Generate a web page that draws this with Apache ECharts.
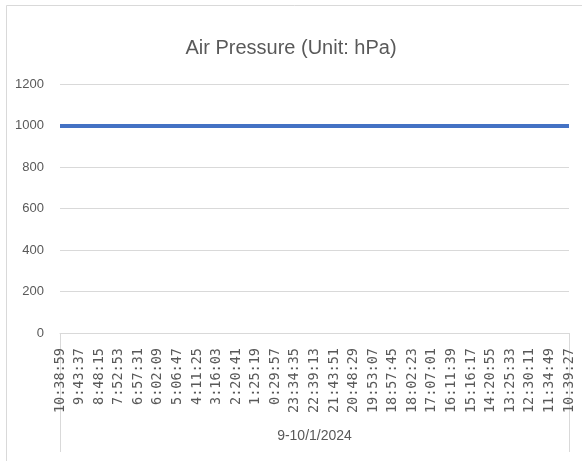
<!DOCTYPE html>
<html>
<head>
<meta charset="utf-8">
<script src="https://cdn.jsdelivr.net/npm/echarts@6/dist/echarts.min.js"></script>
<style>
  html, body { margin: 0; padding: 0; background: #fff; }
  #chart { width: 582px; height: 461px; }
</style>
</head>
<body>
<div id="chart"></div>
<script>
  // time labels, read right off the picture (newest first)
  var times = ['10:38:59', '9:43:37', '8:48:15', '7:52:53', '6:57:31', '6:02:09', '5:06:47',
    '4:11:25', '3:16:03', '2:20:41', '1:25:19', '0:29:57', '23:34:35', '22:39:13',
    '21:43:51', '20:48:29', '19:53:07', '18:57:45', '18:02:23', '17:07:01', '16:11:39',
    '15:16:17', '14:20:55', '13:25:33', '12:30:11', '11:34:49', '10:39:27'];
  var dateGroup = ['9-10/1/2024'];
  var pressure = [997, 997, 997, 997, 997, 997, 997, 997, 997, 997, 997, 997, 997, 997,
    997, 997, 997, 997, 997, 997, 997, 997, 997, 997, 997, 997, 997];
  var yTicks = [0, 200, 400, 600, 800, 1000, 1200];

  var chart = echarts.init(document.getElementById('chart'));
  var grey = '#d9d9d9';
  var txt = '#595959';
  var sans = '"Liberation Sans", sans-serif';

  var option = {
    animation: false,
    backgroundColor: '#fff',
    title: {
      text: 'Air Pressure (Unit: hPa)',
      left: 'center',
      top: 33,
      textStyle: { fontFamily: sans, fontSize: 20, fontWeight: 'normal', color: txt }
    },
    graphic: [{
      type: 'rect',
      shape: { x: 6.5, y: 5.5, width: 600, height: 500 },
      style: { fill: 'none', stroke: grey, lineWidth: 1 }
    }],
    grid: { left: 60, right: 13, top: 84, bottom: 128 },
    xAxis: [{
      type: 'category',
      data: times,
      boundaryGap: false,
      axisLine: { lineStyle: { color: grey } },
      axisTick: { show: false },
      axisLabel: {
        interval: 0, rotate: 90, margin: 15,
        fontFamily: '"DejaVu Sans Mono", monospace', fontSize: 13.5, color: txt
      }
    }, {
      type: 'category',
      data: dateGroup,
      position: 'bottom',
      boundaryGap: true,
      axisLine: { show: false },
      axisTick: { show: true, length: 119, lineStyle: { color: grey } },
      axisLabel: { margin: 96, fontFamily: sans, fontSize: 14, color: txt }
    }],
    yAxis: {
      type: 'value',
      min: yTicks[0],
      max: yTicks[yTicks.length - 1],
      interval: 200,
      axisLine: { show: false },
      axisTick: { show: false },
      splitLine: { lineStyle: { color: grey } },
      axisLabel: {
        margin: 16, fontFamily: sans, fontSize: 13, color: txt,
        formatter: function (v) { return String(v); }
      }
    },
    series: [{
      name: 'Air Pressure',
      type: 'line',
      xAxisIndex: 0,
      data: pressure,
      showSymbol: false,
      lineStyle: { color: '#4472c4', width: 4 }
    }]
  };
  chart.setOption(option);
</script>
</body>
</html>
